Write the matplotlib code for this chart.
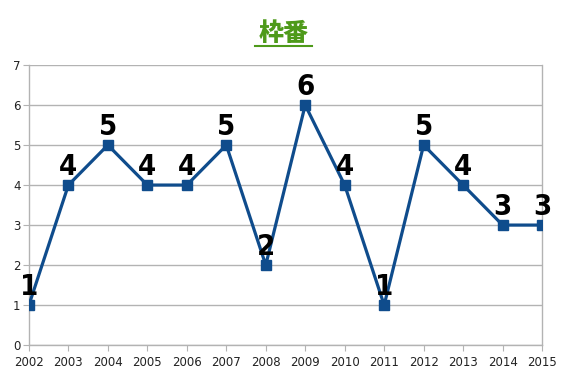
import matplotlib
matplotlib.use('Agg')
import matplotlib.pyplot as plt

years = [2002, 2003, 2004, 2005, 2006, 2007, 2008, 2009, 2010, 2011, 2012, 2013, 2014, 2015]
values = [1, 4, 5, 4, 4, 5, 2, 6, 4, 1, 5, 4, 3, 3]
title = '枠番'

line_color = '#0f4c8c'
grid_color = '#b3b3b3'

fig = plt.figure(figsize=(5.67, 3.78), dpi=100)
ax = fig.add_axes([0.051, 0.087, 0.905, 0.741])

ax.plot(years, values, color=line_color, linewidth=2.3, marker='s',
        markersize=7, markerfacecolor=line_color, markeredgecolor=line_color, zorder=3)

for x, v in zip(years, values):
    ax.annotate(str(v), (x, v), xytext=(0, 3), textcoords='offset points',
                ha='center', va='bottom', fontsize=21, fontweight='heavy',
                fontstretch='condensed', family='DejaVu Sans', color='black')

ax.set_xlim(2002, 2015)
ax.set_ylim(0, 7)
ax.set_xticks(years)
ax.set_yticks(range(0, 8))
ax.tick_params(axis='both', direction='out', length=4, color=grid_color,
               labelsize=8.5, labelcolor='#222222', pad=2)
ax.tick_params(axis='x', pad=4)
ax.grid(axis='y', color=grid_color, linewidth=1)
ax.set_axisbelow(True)
for side in ['left', 'bottom', 'right', 'top']:
    ax.spines[side].set_color(grid_color)
    ax.spines[side].set_linewidth(1)
ax.spines['top'].set_visible(False)

fig.text(0.5, 0.912, title, ha='center', va='center', fontsize=18,
         fontweight='heavy', color='#4e9a1a', family=['Noto Sans CJK JP', 'DejaVu Sans'])
fig.add_artist(plt.Line2D([0.45, 0.55], [0.879, 0.879], color='#4e9a1a', linewidth=1.5))

fig.savefig('out.png', dpi=100)
